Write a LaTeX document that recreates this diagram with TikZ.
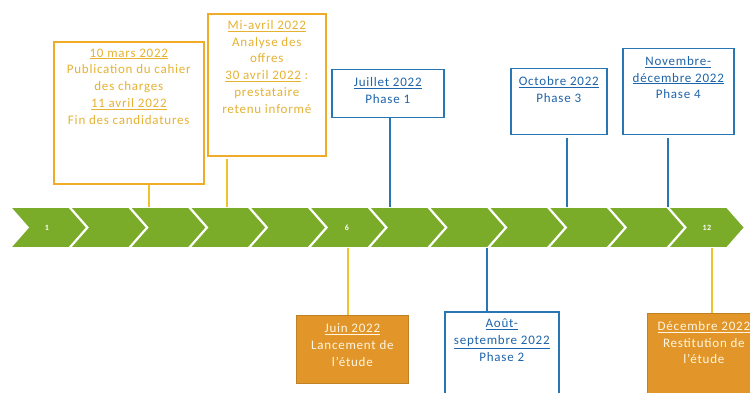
\documentclass[tikz,border=0pt]{standalone}
\usepackage{fontspec}
\setmainfont{Carlito}[LetterSpace=6]
\definecolor{grn}{RGB}{122,172,42}
\definecolor{goldc}{RGB}{240,172,40}
\definecolor{goldtxt}{RGB}{230,178,50}
\definecolor{goldline}{RGB}{240,196,40}
\definecolor{orfill}{RGB}{226,150,42}
\definecolor{blu}{RGB}{40,118,180}
\definecolor{blutxt}{RGB}{30,100,170}
\definecolor{cream}{RGB}{255,246,225}
\tikzset{
  boxbase/.style={inner sep=0pt, anchor=north west, fill=white},
  obox/.style={boxbase, draw=goldc, line width=1.6pt},
  bbox/.style={boxbase, draw=blu, line width=1.5pt},
  fbox/.style={boxbase, draw=orfill!85!black, fill=orfill, line width=0.8pt},
  txt/.style={anchor=north, inner sep=0pt, align=center, font=\fontsize{13}{16.8}\selectfont},
  gtxt/.style={txt, text=goldtxt},
  btxt/.style={txt, text=blutxt},
  wtxt/.style={txt, text=cream},
  yline/.style={draw=goldline, line width=1.2pt},
  bline/.style={draw=blu, line width=1.5pt},
  chev/.style={fill=grn, draw=white, line width=1.6pt, line join=miter},
  num/.style={text=white, font=\fontsize{8}{9}\selectfont\bfseries, inner sep=0pt}
}
\begin{document}
\begin{tikzpicture}[x=1pt,y=-1pt]
\useasboundingbox (0,0) rectangle (750,393);
\clip (0,0) rectangle (750,393);
\fill[white] (0,0) rectangle (750,393);

% chevrons
\foreach \i in {0,...,11}{
  \pgfmathsetmacro\b{10+\i*59.8}
  \draw[chev] (\b,207) -- (\b+59,207) -- (\b+77,227.5) -- (\b+59,248) -- (\b,248) -- (\b+18,227.5) -- cycle;
}
\node[num] (n1) at (47,228) {1};
\node[num] (n6) at (347,228) {6};
\node[num] (n12) at (707,228) {12};

% band anchor points
\coordinate (p1) at (149,207);
\coordinate (p2) at (227,207);
\coordinate (p3) at (390,207);
\coordinate (p4) at (567,207);
\coordinate (p5) at (668,207);
\coordinate (q1) at (348,248);
\coordinate (q2) at (487,248);
\coordinate (q3) at (712,248);

% top boxes
\node[obox, minimum width=150pt, minimum height=142pt] (b1) at (53,41) {};
\node[gtxt] (t1) at ([yshift=-7.5pt]b1.north) {\underline{10 mars 2022}\\Publication du cahier\\des charges\\\underline{11 avril 2022}\\Fin des candidatures};

\node[obox, minimum width=118pt, minimum height=142pt] (b2) at (207,13) {};
\node[gtxt] (t2) at ([yshift=-7pt]b2.north) {\underline{Mi-avril 2022}\\Analyse des\\offres\\\underline{30 avril 2022} :\\prestataire\\retenu informé};

\node[bbox, minimum width=112pt, minimum height=48pt] (b3) at (331,69) {};
\node[btxt] (t3) at ([yshift=-8pt]b3.north) {\underline{Juillet 2022}\\Phase 1};

\node[bbox, minimum width=96pt, minimum height=66pt] (b4) at (510,68) {};
\node[btxt] (t4) at ([yshift=-8pt]b4.north) {\underline{Octobre 2022}\\Phase 3};

\node[bbox, minimum width=111pt, minimum height=86pt] (b5) at (622,48) {};
\node[btxt] (t5) at ([yshift=-8pt]b5.north) {\underline{Novembre-}\\\underline{décembre 2022}\\Phase 4};

% bottom boxes
\node[fbox, minimum width=112pt, minimum height=68pt] (b6) at (296,315) {};
\node[wtxt] (t6) at ([yshift=-8.5pt]b6.north) {\underline{Juin 2022}\\Lancement de\\l'étude};

\node[bbox, minimum width=114pt, minimum height=100pt] (b7) at (444,311) {};
\node[btxt] (t7) at ([yshift=-8pt]b7.north) {\underline{Août-}\\\underline{septembre 2022}\\Phase 2};

\node[fbox, minimum width=113pt, minimum height=100pt] (b8) at (647,313) {};
\node[wtxt] (t8) at ([yshift=-8pt]b8.north) {\underline{Décembre 2022}\\Restitution de\\l'étude};

% connectors
\draw[yline] (p1 |- b1.south) -- (p1);
\draw[yline] ([yshift=-2pt]p2 |- b2.south) -- (p2);
\draw[bline] (p3 |- b3.south) -- (p3);
\draw[bline] ([yshift=-3pt]p4 |- b4.south) -- (p4);
\draw[bline] ([yshift=-3pt]p5 |- b5.south) -- (p5);
\draw[yline] (q1) -- (q1 |- b6.north);
\draw[bline] (q2) -- (q2 |- b7.north);
\draw[yline] (q3) -- (q3 |- b8.north);
\end{tikzpicture}
\end{document}
